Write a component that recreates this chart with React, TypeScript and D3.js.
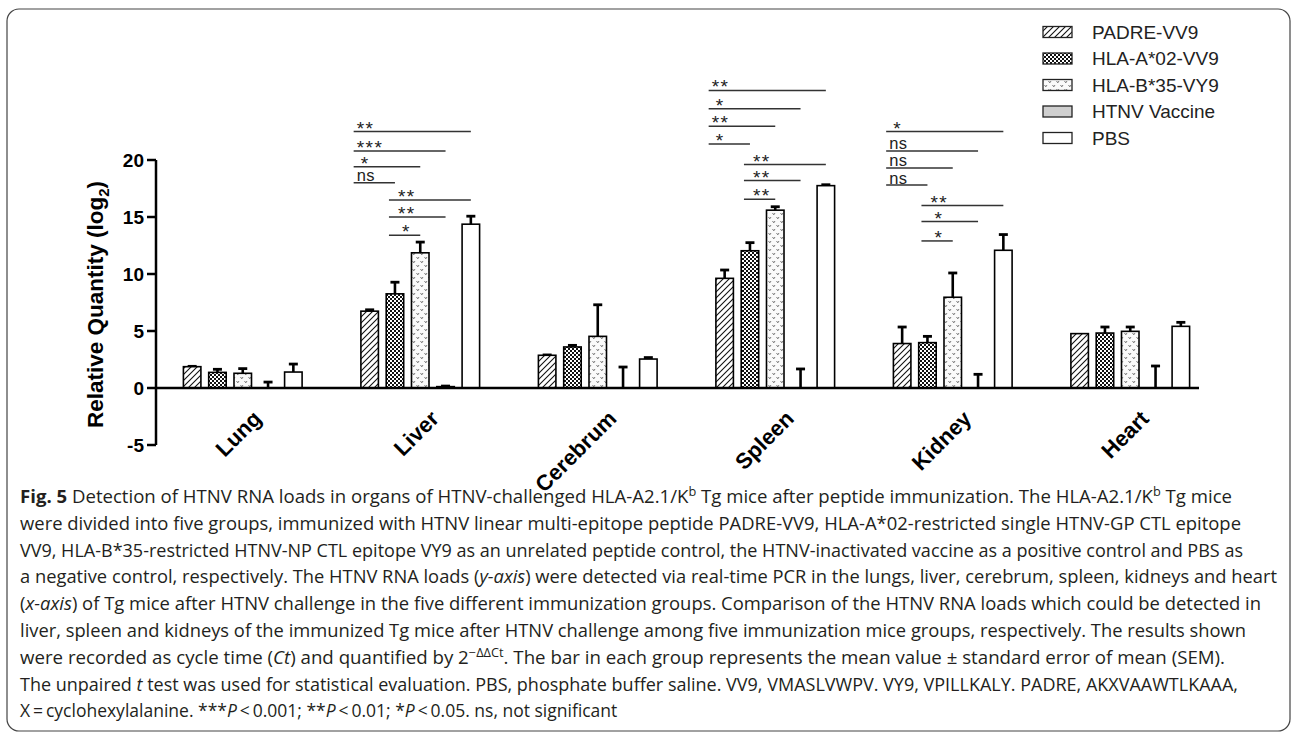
import React from "react";
import * as d3 from "d3";

const organs = ["Lung", "Liver", "Cerebrum", "Spleen", "Kidney", "Heart"];
const seriesNames = ["PADRE-VV9", "HLA-A*02-VV9", "HLA-B*35-VY9", "HTNV Vaccine", "PBS"];

// means per organ (order of seriesNames)
const padreVV9 = [1.87, 6.74, 2.87, 9.62, 3.9, 4.77];
const hlaA02VV9 = [1.37, 8.26, 3.6, 12.04, 3.98, 4.82];
const hlaB35VY9 = [1.29, 11.86, 4.53, 15.6, 7.96, 4.97];
const htnvVaccine = [0, 0.12, 0, 0, 0, 0];
const pbs = [1.4, 14.37, 2.54, 17.75, 12.08, 5.41];

// SEM
const padreSem = [0.03, 0.12, 0.03, 0.73, 1.45, 0.0];
const hlaA02Sem = [0.27, 1.02, 0.14, 0.71, 0.55, 0.53];
const hlaB35Sem = [0.41, 0.94, 2.77, 0.3, 2.13, 0.38];
const vaccineSem = [0.52, 0.05, 1.84, 1.67, 1.2, 1.93];
const pbsSem = [0.7, 0.7, 0.13, 0.08, 1.38, 0.35];

const yTicks = [-5, 0, 5, 10, 15, 20];

// significance brackets: organ, from, to, label, level (y value)
const sigOrgan = ["Liver", "Liver", "Liver", "Liver", "Liver", "Liver", "Liver",
  "Spleen", "Spleen", "Spleen", "Spleen", "Spleen", "Spleen", "Spleen",
  "Kidney", "Kidney", "Kidney", "Kidney", "Kidney", "Kidney", "Kidney"];
const sigFrom = [0, 0, 0, 0, 1, 1, 1, 0, 0, 0, 0, 1, 1, 1, 0, 0, 0, 0, 1, 1, 1];
const sigTo = [4, 3, 2, 1, 4, 3, 2, 4, 3, 2, 1, 4, 3, 2, 4, 3, 2, 1, 4, 3, 2];
const sigLabel = ["**", "***", "*", "ns", "**", "**", "*",
  "**", "*", "**", "*", "**", "**", "**",
  "*", "ns", "ns", "ns", "**", "*", "*"];
const sigLevel = [22.5, 20.8, 19.4, 18.0, 16.5, 15.0, 13.4,
  26.1, 24.5, 22.95, 21.4, 19.6, 18.2, 16.55,
  22.5, 20.8, 19.3, 17.8, 16.0, 14.6, 12.9];

const means = [padreVV9, hlaA02VV9, hlaB35VY9, htnvVaccine, pbs];
const sems = [padreSem, hlaA02Sem, hlaB35Sem, vaccineSem, pbsSem];
const fills = ["url(#hatch)", "url(#checker)", "url(#vdots)", "#cfcfcf", "#ffffff"];

const AR = "'Liberation Sans', Arial, sans-serif";
const CAP = "'Open Sans', 'Noto Sans', sans-serif";

export default function App() {
  const x0 = d3.scaleBand<string>().domain(organs).range([154, 1219]).padding(0);
  const x1 = d3.scaleBand<string>().domain(seriesNames).range([-59.35, 59.35]).paddingInner(0.308).paddingOuter(0);
  const y = d3.scaleLinear().domain([-5, 20]).range([445, 160]);
  const bw = x1.bandwidth();
  const cx = (organ: string, si: number) => (x0(organ) as number) + x0.bandwidth() / 2 + (x1(seriesNames[si]) as number) + bw / 2;
  const axisX = 156;
  const capW = 9;

  const captionLines: { end: number | null; content: React.ReactNode }[] = [
    { end: 1232, content: <><tspan fontWeight="bold">Fig. 5</tspan>{"  Detection of HTNV RNA loads in organs of HTNV-challenged HLA-A2.1/K"}<tspan dy={-7} fontSize={12}>b</tspan><tspan dy={7}>{" Tg mice after peptide immunization. The HLA-A2.1/K"}</tspan><tspan dy={-7} fontSize={12}>b</tspan><tspan dy={7}>{" Tg mice"}</tspan></> },
    { end: 1241, content: <>{"were divided into five groups, immunized with HTNV linear multi-epitope peptide PADRE-VV9, HLA-A*02-restricted single HTNV-GP CTL epitope"}</> },
    { end: 1243, content: <>{"VV9, HLA-B*35-restricted HTNV-NP CTL epitope VY9 as an unrelated peptide control, the HTNV-inactivated vaccine as a positive control and PBS as"}</> },
    { end: 1277, content: <>{"a negative control, respectively. The HTNV RNA loads ("}<tspan fontStyle="italic">y-axis</tspan>{") were detected via real-time PCR in the lungs, liver, cerebrum, spleen, kidneys and heart"}</> },
    { end: 1261, content: <>{"("}<tspan fontStyle="italic">x-axis</tspan>{") of Tg mice after HTNV challenge in the five different immunization groups. Comparison of the HTNV RNA loads which could be detected in"}</> },
    { end: 1246, content: <>{"liver, spleen and kidneys of the immunized Tg mice after HTNV challenge among five immunization mice groups, respectively. The results shown"}</> },
    { end: 1225, content: <>{"were recorded as cycle time ("}<tspan fontStyle="italic">Ct</tspan>{") and quantified by 2"}<tspan dy={-7} fontSize={12}>{"\u2212\u0394\u0394Ct"}</tspan><tspan dy={7}>{". The bar in each group represents the mean value \u00b1 standard error of mean (SEM)."}</tspan></> },
    { end: 1238, content: <>{"The unpaired "}<tspan fontStyle="italic">t</tspan>{" test was used for statistical evaluation. PBS, phosphate buffer saline. VV9, VMASLVWPV. VY9, VPILLKALY. PADRE, AKXVAAWTLKAAA,"}</> },
    { end: null, content: <>{"X\u2009=\u2009cyclohexylalanine. ***"}<tspan fontStyle="italic">P</tspan>{"\u2009<\u20090.001; **"}<tspan fontStyle="italic">P</tspan>{"\u2009<\u20090.01; *"}<tspan fontStyle="italic">P</tspan>{"\u2009<\u20090.05. ns, not significant"}</> },
  ];
  const capX = 20;
  const capY0 = 503;
  const capDy = 26.8;

  return (
    <svg width={1295} height={735} style={{ position: "absolute", left: 0, top: 0, background: "#fff" }}>
      <defs>
        <pattern id="hatch" width={6} height={6} patternUnits="userSpaceOnUse">
          <rect width={6} height={6} fill="#fff" />
          <path d="M0,6 L6,0 M-1,1 L1,-1 M5,7 L7,5" stroke="#111" strokeWidth={1.1} />
        </pattern>
        <pattern id="checker" width={4} height={4} patternUnits="userSpaceOnUse">
          <rect width={4} height={4} fill="#fff" />
          <rect x={0} y={0} width={2} height={2} fill="#111" />
          <rect x={2} y={2} width={2} height={2} fill="#111" />
        </pattern>
        <pattern id="vdots" width={8} height={8} patternUnits="userSpaceOnUse">
          <rect width={8} height={8} fill="#fafafa" />
          <path d="M0.5,1 L1.8,2.8 L3,1 M4.5,5 L5.8,6.8 L7,5" stroke="#555" strokeWidth={0.8} fill="none" />
        </pattern>
      </defs>

      <rect x={7} y={9} width={1283} height={722} rx={12} fill="none" stroke="#444" strokeWidth={1.2} />

      {/* y axis */}
      <line x1={axisX} x2={axisX} y1={y(-5)} y2={y(20)} stroke="#000" strokeWidth={2.5} />
      {yTicks.map((t) => (
        <g key={t}>
          <line x1={axisX - 9} x2={axisX} y1={y(t)} y2={y(t)} stroke="#000" strokeWidth={2.5} />
          <text x={axisX - 12} y={y(t)} dy="0.36em" textAnchor="end" fontFamily={AR} fontWeight="bold" fontSize={19}>{t}</text>
        </g>
      ))}
      <text transform={`translate(103,${(y(-5) + y(20)) / 2 + 2}) rotate(-90)`} textAnchor="middle" fontFamily={AR} fontWeight="bold" fontSize={22.5}>
        Relative Quantity (log<tspan dy={6} fontSize={15}>2</tspan><tspan dy={-6}>)</tspan>
      </text>

      {/* bars */}
      {organs.map((o, oi) => (
        <g key={o}>
          {seriesNames.map((s, si) => {
            const v = means[si][oi];
            const e = sems[si][oi];
            const c = cx(o, si);
            return (
              <g key={s}>
                {e > 0 && (
                  <>
                    <line x1={c} x2={c} y1={y(v)} y2={y(v + e)} stroke="#000" strokeWidth={2.6} />
                    <line x1={c - capW / 2} x2={c + capW / 2} y1={y(v + e)} y2={y(v + e)} stroke="#000" strokeWidth={2.8} />
                  </>
                )}
                {v > 0 && (
                  <rect x={c - bw / 2} y={y(v)} width={bw} height={y(0) - y(v)} fill={fills[si]} stroke="#000" strokeWidth={1.6} />
                )}
              </g>
            );
          })}
        </g>
      ))}

      {/* zero line */}
      <line x1={axisX} x2={1199} y1={y(0)} y2={y(0)} stroke="#000" strokeWidth={2.5} />

      {/* x labels */}
      {organs.map((o) => {
        const c = (x0(o) as number) + x0.bandwidth() / 2;
        return (
          <text key={o} transform={`translate(${c + 20},${y(0) + 32}) rotate(-45)`} textAnchor="end" fontFamily={AR} fontWeight="bold" fontSize={22}>{o}</text>
        );
      })}

      {/* significance */}
      {sigOrgan.map((o, i) => {
        const from = sigFrom[i];
        const to = sigTo[i];
        const xs = cx(o, from) - (from === 0 ? 16 : 6);
        const xe = cx(o, to);
        const ly = y(sigLevel[i]);
        const lab = sigLabel[i];
        const isStar = lab !== "ns";
        const tx = xs + (from === 0 ? 3 : 9) + (lab === "*" ? 4 : 0);
        return (
          <g key={i}>
            <line x1={xs} x2={xe} y1={ly} y2={ly} stroke="#333" strokeWidth={1.5} />
            <text x={tx} y={isStar ? ly + 3 : ly - 1.5} fontFamily={AR} fontSize={isStar ? 19 : 16.5} letterSpacing={isStar ? 1.5 : 0.5} fill="#222">{lab}</text>
          </g>
        );
      })}

      {/* legend */}
      {seriesNames.map((s, si) => {
        const ly = 32 + si * 26.5;
        return (
          <g key={s}>
            <rect x={1043} y={ly - 5.5} width={29} height={11} fill={fills[si]} stroke="#222" strokeWidth={1.3} />
            <text x={1092} y={ly} dy="0.36em" fontFamily={AR} fontSize={19} fill="#222">{s}</text>
          </g>
        );
      })}

      {/* caption */}
      {captionLines.map((l, i) => (
        <text key={i} x={capX} y={capY0 + i * capDy} fontFamily={CAP} fontSize={17.5} fill="#231f20"
          {...(l.end !== null ? { textLength: l.end - capX, lengthAdjust: "spacingAndGlyphs" } : {})}>
          {l.content}
        </text>
      ))}
    </svg>
  );
}
